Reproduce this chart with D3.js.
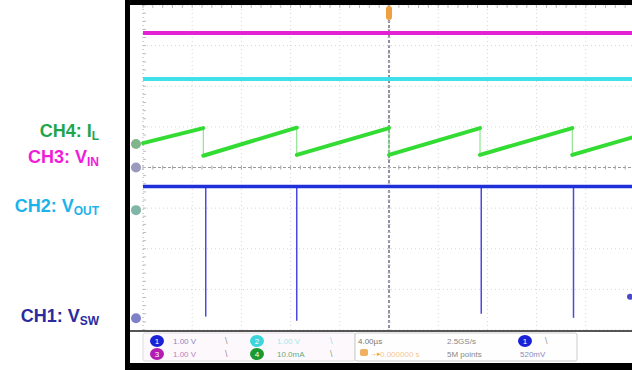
<!DOCTYPE html>
<html><head><meta charset="utf-8">
<script src="https://cdn.jsdelivr.net/npm/d3@7"></script>
<style>html,body{margin:0;padding:0;background:#fff;}svg{display:block;}</style>
</head><body>
<script>
// ---- data (time in µs, 4 µs/div; amplitudes in screen divisions) ----
const timeDomain = [-20, 20];
const divDomain = [-4, 4];
const timeTicks = [-20, -16, -12, -8, -4, 0, 4, 8, 12, 16, 20];
const divTicks = [-4, -3, -2, -1, 0, 1, 2, 3, 4];
const switchTimes = [-15.1, -7.5, 0, 7.4, 14.9];
const ilPeaks = [0.97, 0.98, 0.97, 0.97, 0.97];
const ilValleys = [0.29, 0.31, 0.31, 0.31, 0.31];
const ilStart = 0.6, ilEnd = 0.76;
const vinLevel = 3.31;
const voutLevel = 2.18;
const vswHigh = -0.47;
const spikeTimes = [-14.9, -7.5, 7.5, 15.0];
const spikeLows = [-3.67, -3.77, -3.6, -3.7];
const labels = ["CH4: I", "CH3: V", "CH2: V", "CH1: V"];
const labelSubs = ["L", "IN", "OUT", "SW"];
const labelColors = ["#1fa64c", "#f01cd8", "#1db3ea", "#2b2b9e"];
const infoRow1 = ["1.00 V", "1.00 V", "4.00µs", "2.5GS/s", "520mV"];
const infoRow2 = ["1.00 V", "10.0mA", "0.000000 s", "5M points"];

const W = 632, H = 370;
const svg = d3.select("body").append("svg").attr("width", W).attr("height", H);

const x = d3.scaleLinear().domain(timeDomain).range([143, 635]);
const y = d3.scaleLinear().domain(divDomain).range([330, 5]);

// frame
svg.append("rect").attr("x", 125).attr("y", 0).attr("width", 5).attr("height", H).attr("fill", "#000");
svg.append("rect").attr("x", 125).attr("y", 0).attr("width", W - 125).attr("height", 5).attr("fill", "#000");
svg.append("rect").attr("x", 125).attr("y", 363).attr("width", W - 125).attr("height", 7).attr("fill", "#000");

svg.append("clipPath").attr("id", "pc").append("rect")
  .attr("x", 130).attr("y", 5).attr("width", W - 130).attr("height", 326);
const plot = svg.append("g").attr("clip-path", "url(#pc)");

// grid
const grid = plot.append("g");
timeTicks.forEach(t => {
  grid.append("line").attr("x1", x(t)).attr("x2", x(t)).attr("y1", y(4)).attr("y2", y(-4))
    .attr("stroke", t === 0 ? "#6a6a88" : (t === -20 ? "#aaa" : "#d6d6d6"))
    .attr("stroke-width", t === 0 ? 1.5 : 1)
    .attr("stroke-dasharray", t === 0 ? "3,2" : "1,3");
});
divTicks.forEach(d => {
  grid.append("line").attr("x1", x(-20)).attr("x2", x(20)).attr("y1", y(d)).attr("y2", y(d))
    .attr("stroke", d === 0 ? "#999" : "#d6d6d6")
    .attr("stroke-width", 1)
    .attr("stroke-dasharray", d === 0 ? "3,2" : "1,3");
});
// minor ticks on centre lines and edges
const minorT = d3.range(-20, 20.01, 0.8);
minorT.forEach(t => {
  grid.append("line").attr("x1", x(t)).attr("x2", x(t)).attr("y1", y(0) - 2).attr("y2", y(0) + 2).attr("stroke", "#aaa");
  grid.append("line").attr("x1", x(t)).attr("x2", x(t)).attr("y1", y(4)).attr("y2", y(4) + 3).attr("stroke", "#bbb");
});
const minorD = d3.range(-4, 4.01, 0.2);
minorD.forEach(d => {
  grid.append("line").attr("x1", x(0) - 1.5).attr("x2", x(0) + 1.5).attr("y1", y(d)).attr("y2", y(d)).attr("stroke", "#bbb");
  grid.append("line").attr("x1", x(-20)).attr("x2", x(-20) + 3).attr("y1", y(d)).attr("y2", y(d)).attr("stroke", "#bbb");
});

const line = d3.line().x(p => x(p[0])).y(p => y(p[1]));

// CH3 VIN
plot.append("path").attr("d", line([[timeDomain[0], vinLevel], [timeDomain[1], vinLevel]]))
  .attr("stroke", "#e322d4").attr("stroke-width", 4).attr("fill", "none");
// CH2 VOUT
plot.append("path").attr("d", line([[timeDomain[0], voutLevel], [timeDomain[1], voutLevel]]))
  .attr("stroke", "#3fe0ea").attr("stroke-width", 4).attr("fill", "none");

// CH4 IL sawtooth
const ramps = [];
let prevT = timeDomain[0], prevV = ilStart;
switchTimes.forEach((t, i) => {
  ramps.push([[prevT, prevV], [t, ilPeaks[i]]]);
  plot.append("path").attr("d", line([[t, ilPeaks[i]], [t, ilValleys[i]]]))
    .attr("stroke", "#7ade7a").attr("stroke-width", 1).attr("fill", "none");
  prevT = t; prevV = ilValleys[i];
});
ramps.push([[prevT, prevV], [timeDomain[1], ilEnd]]);
ramps.forEach(r => plot.append("path").attr("d", line(r))
  .attr("stroke", "#33dc33").attr("stroke-width", 4).attr("stroke-linecap", "round").attr("fill", "none"));

// CH1 VSW
spikeTimes.forEach((t, i) => {
  plot.append("path").attr("d", line([[t, vswHigh], [t, spikeLows[i]]]))
    .attr("stroke", "#4a4ae0").attr("stroke-width", 1.5).attr("fill", "none");
});
plot.append("path").attr("d", line([[timeDomain[0], vswHigh], [timeDomain[1], vswHigh]]))
  .attr("stroke", "#2030d8").attr("stroke-width", 3.5).attr("fill", "none");

// bottom graticule edge
svg.append("line").attr("x1", 130).attr("x2", W).attr("y1", 331).attr("y2", 331)
  .attr("stroke", "#555").attr("stroke-width", 2);

// channel ground markers
const markers = [[ilStart - 0.02, "#6aa878"], [0, "#8a88b0"], [-1.05, "#6aa898"], [-3.71, "#6a6ac0"]];
markers.forEach(m => svg.append("circle").attr("cx", 136).attr("cy", y(m[0])).attr("r", 5).attr("fill", m[1]).attr("opacity", 0.85));
// trigger marker
svg.append("rect").attr("x", x(0) - 3).attr("y", 6).attr("width", 6).attr("height", 14).attr("rx", 3)
  .attr("fill", "#f0a040");
svg.append("circle").attr("cx", 630).attr("cy", y(-3.18)).attr("r", 3).attr("fill", "#4a4ac8");

// info panel
const panel = svg.append("g");
panel.append("rect").attr("x", 143).attr("y", 333).attr("width", 212).attr("height", 28).attr("rx", 2)
  .attr("fill", "#fdf8fc").attr("stroke", "#ddd");
panel.append("rect").attr("x", 355).attr("y", 333).attr("width", 222).attr("height", 28).attr("rx", 2)
  .attr("fill", "#fefefe").attr("stroke", "#ccc");
const chips = [[157, 341, "#1a22d8", "1"], [157, 354, "#b21cb0", "3"], [257, 341, "#3ad6dc", "2"], [257, 354, "#1a9a30", "4"], [525, 341, "#1a22d8", "1"]];
const tf = "Liberation Sans, Arial, sans-serif";
chips.forEach(c => {
  panel.append("ellipse").attr("cx", c[0]).attr("cy", c[1]).attr("rx", 7).attr("ry", 6).attr("fill", c[2]);
  panel.append("text").attr("x", c[0]).attr("y", c[1] + 3).attr("text-anchor", "middle")
    .attr("font-family", tf).attr("font-size", 8).attr("fill", "#fff").text(c[3]);
});
const infoTxt = [
  [173, 344, infoRow1[0], "#8a8ac0"], [277, 344, infoRow1[1], "#9ee8ec"], [358, 344, infoRow1[2], "#777"],
  [447, 344, infoRow1[3], "#888"], [520, 357, infoRow1[4], "#8a8ac0"],
  [173, 357, infoRow2[0], "#c080c0"], [277, 357, infoRow2[1], "#6aaa7a"], [380, 357, infoRow2[2], "#f3c890"],
  [447, 357, infoRow2[3], "#888"]
];
infoTxt.forEach(t => panel.append("text").attr("x", t[0]).attr("y", t[1]).attr("font-family", tf)
  .attr("font-size", 8).attr("fill", t[3]).text(t[2]));
[[225, 341, "#999"], [225, 354, "#b080b0"], [330, 341, "#aadddd"], [330, 354, "#88aa88"], [545, 341, "#999"]].forEach(s =>
  panel.append("text").attr("x", s[0]).attr("y", s[1] + 3).attr("font-family", tf).attr("font-size", 9).attr("fill", s[2]).text("\\"));
panel.append("rect").attr("x", 360).attr("y", 349).attr("width", 8).attr("height", 7).attr("rx", 2).attr("fill", "#f0b060");
panel.append("text").attr("x", 370).attr("y", 356).attr("font-family", tf).attr("font-size", 7).attr("fill", "#f0a040").text("→▸");

// left labels
const labelBase = [137, 163, 212, 322];
labels.forEach((l, i) => {
  const t = svg.append("text").attr("x", 99).attr("y", labelBase[i]).attr("text-anchor", "end")
    .attr("font-family", tf).attr("font-weight", "bold")
    .attr("font-size", 18).attr("fill", labelColors[i]);
  t.append("tspan").text(l);
  t.append("tspan").attr("font-size", 12).attr("dy", 3).text(labelSubs[i]);
});
</script>
</body></html>
